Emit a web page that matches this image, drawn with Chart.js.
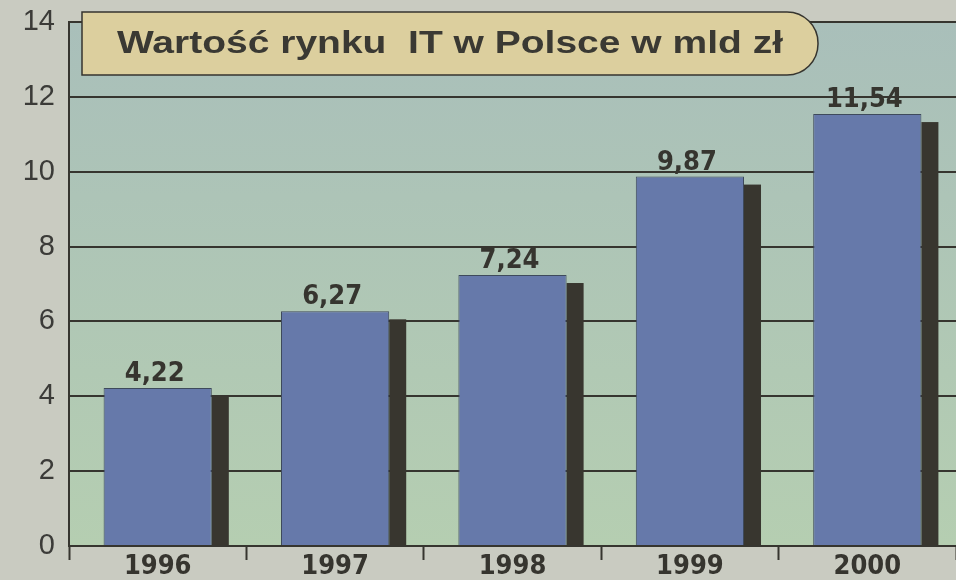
<!DOCTYPE html>
<html>
<head>
<meta charset="utf-8">
<script src="https://cdn.jsdelivr.net/npm/chart.js@4.4.1/dist/chart.umd.min.js"></script>
<style>
  html, body { margin: 0; padding: 0; background: #c9cbc1; }
  #wrap { width: 956px; height: 580px; position: relative; }
</style>
</head>
<body>
<div id="wrap"><canvas id="rynek" width="956" height="580"></canvas></div>
<script>
// dane z wykresu
const lata = ['1996', '1997', '1998', '1999', '2000'];
const wartosci = [4.22, 6.27, 7.24, 9.87, 11.54];
const tytul = 'Wartość rynku  IT w Polsce w mld zł';

const ciemny = '#36352f';
const narrow = '"Liberation Sans Narrow", "DejaVu Sans Condensed", Arial, sans-serif';

// tło obszaru wykresu: gradient od szaroniebieskiego do zielonkawego
const tloPlugin = {
  id: 'tlo',
  beforeDraw(chart) {
    const { ctx, chartArea: a } = chart;
    const g = ctx.createLinearGradient(0, a.top, 0, a.bottom);
    g.addColorStop(0, '#a9bfba');
    g.addColorStop(1, '#b5ceb1');
    ctx.save();
    ctx.fillStyle = g;
    ctx.fillRect(a.left, a.top, a.right - a.left, a.bottom - a.top);
    ctx.restore();
  }
};

// cień słupków + etykiety wartości
const cienPlugin = {
  id: 'cien',
  beforeDatasetDraw(chart) {
    const { ctx } = chart;
    const meta = chart.getDatasetMeta(0);
    ctx.save();
    ctx.fillStyle = '#38362f';
    meta.data.forEach(bar => {
      const right = bar.x + bar.width / 2;
      ctx.fillRect(right, bar.y + 8, 17, bar.base - bar.y - 8);
    });
    ctx.restore();
  },
  afterDatasetsDraw(chart) {
    const { ctx } = chart;
    const meta = chart.getDatasetMeta(0);
    ctx.save();
    ctx.fillStyle = ciemny;
    ctx.font = 'bold 27px ' + narrow;
    ctx.textAlign = 'center';
    ctx.textBaseline = 'alphabetic';
    meta.data.forEach((bar, i) => {
      ctx.fillText(wartosci[i].toFixed(2).replace('.', ','), bar.x - 3, bar.y - 7);
    });
    ctx.restore();
  }
};

// ramka z tytułem
const tytulPlugin = {
  id: 'tytul',
  afterDraw(chart) {
    const { ctx } = chart;
    const x0 = 82, y0 = 12, x1 = 818, y1 = 75, r = 31;
    ctx.save();
    ctx.beginPath();
    ctx.moveTo(x0, y0);
    ctx.lineTo(x1 - r, y0);
    ctx.arcTo(x1, y0, x1, y0 + r, r);
    ctx.arcTo(x1, y1, x1 - r, y1, r);
    ctx.lineTo(x0, y1);
    ctx.closePath();
    ctx.fillStyle = '#dccf9e';
    ctx.fill();
    ctx.lineWidth = 1.5;
    ctx.strokeStyle = ciemny;
    ctx.stroke();
    // tekst rozciągnięty w poziomie jak w oryginale
    ctx.fillStyle = '#3a3933';
    ctx.font = 'bold 31px "Liberation Sans", Arial, sans-serif';
    ctx.textBaseline = 'alphabetic';
    const w = ctx.measureText(tytul).width;
    ctx.translate(117, 53);
    ctx.scale(666 / w, 1);
    ctx.fillText(tytul, 0, 0);
    ctx.restore();
  }
};

new Chart(document.getElementById('rynek'), {
  type: 'bar',
  data: {
    labels: lata,
    datasets: [{
      data: wartosci,
      backgroundColor: '#6679aa',
      borderColor: '#3e4a5c',
      borderWidth: 1,
      borderSkipped: 'bottom',
      categoryPercentage: 1,
      barPercentage: 0.61
    }]
  },
  options: {
    responsive: false,
    animation: false,
    events: [],
    layout: { padding: { top: 22, right: 0, left: 0, bottom: 0 } },
    plugins: { legend: { display: false }, tooltip: { enabled: false } },
    scales: {
      x: {
        offset: true,
        grid: {
          offset: true,
          drawOnChartArea: false,
          drawTicks: true,
          tickLength: 14,
          tickWidth: 2,
          tickColor: ciemny
        },
        border: { display: true, color: ciemny, width: 2 },
        ticks: {
          color: ciemny,
          font: { family: narrow, size: 27, weight: 'bold' },
          padding: -9
        },
        afterFit(s) { s.height = 34; s.paddingLeft = 0; s.paddingRight = 0; }
      },
      y: {
        min: 0,
        max: 14,
        ticks: {
          stepSize: 2,
          color: '#3b3b38',
          padding: 14,
          font: { family: 'Arial, "Liberation Sans", sans-serif', size: 29 }
        },
        grid: { color: ciemny, lineWidth: 2, drawTicks: false },
        border: { display: true, color: ciemny, width: 2 },
        afterFit(s) { s.width = 69; s.paddingTop = 0; s.paddingBottom = 0; }
      }
    }
  },
  plugins: [tloPlugin, cienPlugin, tytulPlugin]
});
</script>
</body>
</html>
